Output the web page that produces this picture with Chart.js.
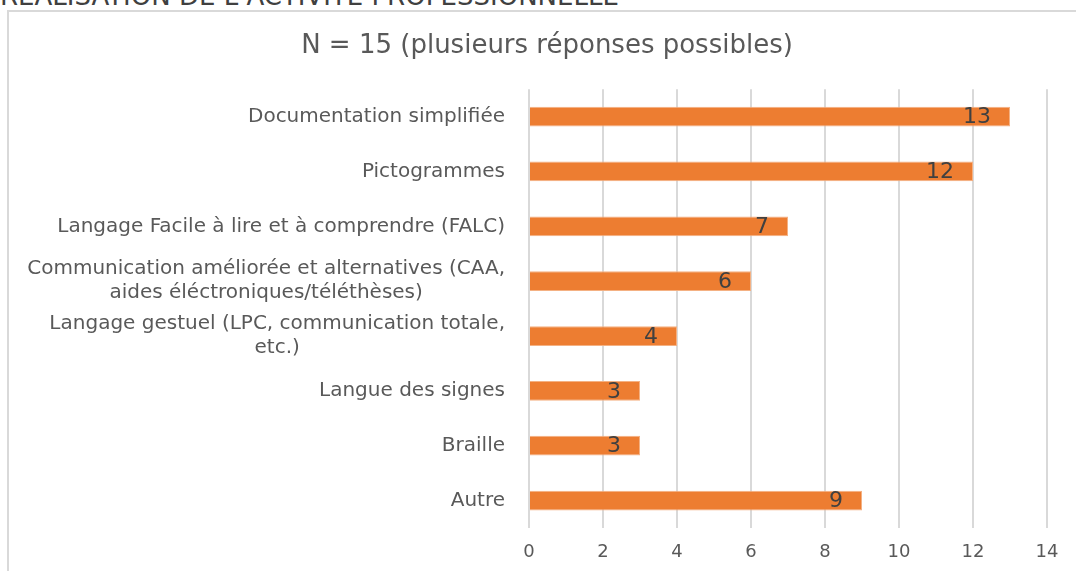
<!DOCTYPE html>
<html>
<head>
<meta charset="utf-8">
<script src="https://cdn.jsdelivr.net/npm/chart.js@4/dist/chart.umd.min.js"></script>
<style>
  html, body { margin: 0; padding: 0; background: #fff; overflow: hidden; }
  #wrap { position: relative; width: 1076px; height: 571px; }
  #heading {
    position: absolute; left: 0; top: -17px; white-space: nowrap;
    font-family: "DejaVu Sans", sans-serif; font-size: 26px; line-height: 26px; color: #404040;
  }
  #frame {
    position: absolute; left: 7px; top: 10px; width: 1200px; height: 700px;
    border: 2px solid #d9d9d9; box-sizing: border-box;
  }
  canvas { position: absolute; left: 0; top: 0; }
</style>
</head>
<body>
<div id="wrap">
  <div id="heading">RÉALISATION DE L’ACTIVITÉ PROFESSIONNELLE</div>
  <div id="frame"></div>
  <canvas id="myChart" width="1076" height="571"></canvas>
</div>
<script>
// categories (multi-line ones are arrays of lines)
var categories = [
  'Documentation simplifiée',
  'Pictogrammes',
  'Langage Facile à lire et à comprendre (FALC)',
  ['Communication améliorée et alternatives (CAA,', 'aides éléctroniques/téléthèses)'],
  ['Langage gestuel (LPC, communication totale,', 'etc.)'],
  'Langue des signes',
  'Braille',
  'Autre'
];
var counts = [13, 12, 7, 6, 4, 3, 3, 9];
var xTicks = [0, 2, 4, 6, 8, 10, 12, 14];
var chartTitle = 'N = 15 (plusieurs réponses possibles)';

var greyText = '#595959';
var fontName = 'DejaVu Sans';

// value labels drawn inside the end of every bar
var barValues = {
  id: 'barValues',
  afterDatasetsDraw: function (chart) {
    var ctx = chart.ctx;
    var meta = chart.getDatasetMeta(0);
    ctx.save();
    ctx.font = '22px "' + fontName + '", sans-serif';
    ctx.fillStyle = '#404040';
    ctx.textAlign = 'right';
    ctx.textBaseline = 'middle';
    meta.data.forEach(function (bar, i) {
      ctx.fillText(counts[i], bar.x - 19, bar.y + 1);
    });
    ctx.restore();
  }
};

// category labels: block right aligned, lines centered in the block (like excel)
var catLabels = {
  id: 'catLabels',
  afterDraw: function (chart) {
    var ctx = chart.ctx;
    var yScale = chart.scales.y;
    var right = chart.chartArea.left - 24;
    var lh = 24;
    ctx.save();
    ctx.font = '20px "' + fontName + '", sans-serif';
    ctx.fillStyle = greyText;
    ctx.textAlign = 'center';
    ctx.textBaseline = 'middle';
    categories.forEach(function (lab, i) {
      var lines = Array.isArray(lab) ? lab : [lab];
      var w = 0;
      lines.forEach(function (l) { w = Math.max(w, ctx.measureText(l).width); });
      var cx = right - w / 2;
      var y0 = yScale.getPixelForTick(i) - (lines.length - 1) * lh / 2;
      lines.forEach(function (l, k) {
        ctx.fillText(l, cx, y0 + k * lh);
      });
    });
    ctx.restore();
  }
};

var ctx = document.getElementById('myChart').getContext('2d');
var myChart = new Chart(ctx, {
  type: 'bar',
  data: {
    labels: categories,
    datasets: [{
      data: counts,
      backgroundColor: '#ED7D31',
      borderColor: '#F4B183',
      borderWidth: 1,
      barPercentage: 0.36,
      categoryPercentage: 1
    }]
  },
  options: {
    indexAxis: 'y',
    responsive: false,
    animation: false,
    layout: { padding: { left: 47, right: 29, top: 31, bottom: 0 } },
    scales: {
      x: {
        min: 0,
        max: 14,
        afterBuildTicks: function (scale) {
          scale.ticks = xTicks.map(function (v) { return { value: v }; });
        },
        afterFit: function (scale) { scale.height = 43; },
        grid: { color: '#d9d9d9', lineWidth: 2, drawTicks: false },
        border: { display: false },
        ticks: { color: greyText, font: { family: fontName, size: 18 }, padding: 14 }
      },
      y: {
        grid: { display: false },
        border: { display: false },
        ticks: { color: 'transparent', font: { family: fontName, size: 18 } },
        afterFit: function (scale) { scale.width = 482; }
      }
    },
    plugins: {
      legend: { display: false },
      tooltip: { enabled: false },
      title: {
        display: true,
        text: chartTitle,
        color: greyText,
        font: { family: fontName, size: 26, weight: 'normal' },
        padding: { top: 0, bottom: 27 }
      }
    }
  },
  plugins: [barValues, catLabels]
});
</script>
</body>
</html>
